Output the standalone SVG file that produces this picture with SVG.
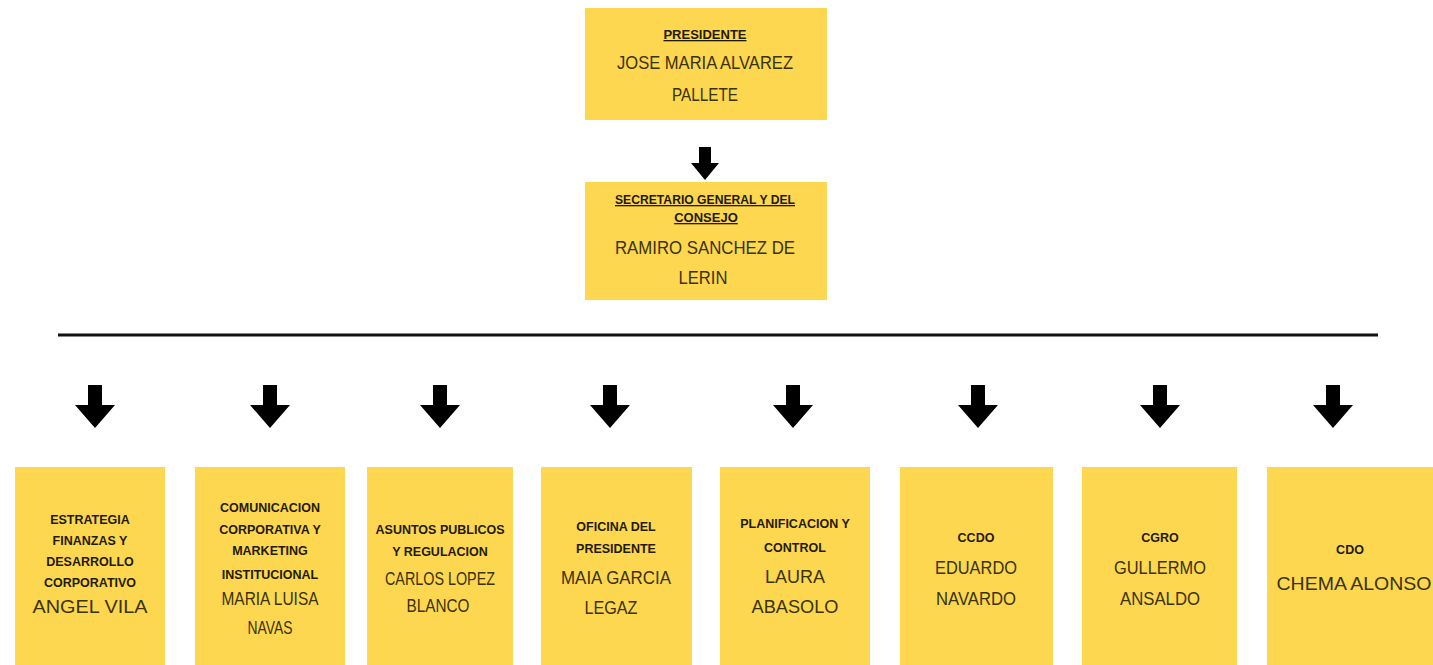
<svg xmlns="http://www.w3.org/2000/svg" width="1433" height="665" viewBox="0 0 1433 665">
<style>
.box{fill:#FDD750}
.h{font-family:"Liberation Sans",Arial,sans-serif;font-weight:bold;font-size:12.5px;fill:#1f1a02;text-anchor:middle}
.ht{font-family:"Liberation Sans",Arial,sans-serif;font-weight:bold;font-size:13px;fill:#1f1a02;text-anchor:middle;text-decoration:underline}
.n{font-family:"Liberation Sans",Arial,sans-serif;font-size:18px;fill:#3a3208;text-anchor:middle}
.arrow{fill:#000}
</style>
<defs>
<path id="arr" d="M-7,0 H7 V20 H20 L0,43 L-20,20 H-7 Z"/>
<path id="arrs" d="M-6,0 H6 V16 H14 L0,33 L-14,16 H-6 Z"/>
</defs>
<rect width="1433" height="665" fill="#ffffff"/>
<g id="connectors">
<use href="#arrs" class="arrow" x="705" y="147"/>
<line x1="58" y1="335" x2="1378" y2="335" stroke="#111" stroke-width="3"/>
<use href="#arr" class="arrow" x="95" y="385"/>
<use href="#arr" class="arrow" x="270" y="385"/>
<use href="#arr" class="arrow" x="440" y="385"/>
<use href="#arr" class="arrow" x="610" y="385"/>
<use href="#arr" class="arrow" x="793" y="385"/>
<use href="#arr" class="arrow" x="978" y="385"/>
<use href="#arr" class="arrow" x="1160" y="385"/>
<use href="#arr" class="arrow" x="1333" y="385"/>
</g>
<g id="presidente">
<rect class="box" x="585" y="8" width="242" height="112"/>
<text class="ht" x="705" y="39">PRESIDENTE</text>
<text class="n" x="705" y="69" textLength="176" lengthAdjust="spacingAndGlyphs">JOSE MARIA ALVAREZ</text>
<text class="n" x="705" y="101" textLength="66" lengthAdjust="spacingAndGlyphs">PALLETE</text>
</g>
<g id="secretario">
<rect class="box" x="585" y="182" width="242" height="118"/>
<text class="ht" x="705" y="204" textLength="180" lengthAdjust="spacingAndGlyphs">SECRETARIO GENERAL Y DEL</text>
<text class="ht" x="706" y="222">CONSEJO<tspan>  </tspan></text>
<text class="n" x="705" y="254" textLength="180" lengthAdjust="spacingAndGlyphs">RAMIRO SANCHEZ DE</text>
<text class="n" x="703" y="284" textLength="49" lengthAdjust="spacingAndGlyphs">LERIN</text>
</g>
<g id="estrategia">
<rect class="box" x="15" y="467" width="150" height="200"/>
<text class="h" x="90" y="524">ESTRATEGIA</text>
<text class="h" x="90" y="545">FINANZAS Y</text>
<text class="h" x="90" y="566">DESARROLLO</text>
<text class="h" x="90" y="587">CORPORATIVO</text>
<text class="n" x="90" y="613" textLength="115" lengthAdjust="spacingAndGlyphs">ANGEL VILA</text>
</g>
<g id="comunicacion">
<rect class="box" x="195" y="467" width="150" height="200"/>
<text class="h" x="270" y="512">COMUNICACION</text>
<text class="h" x="270" y="534">CORPORATIVA Y</text>
<text class="h" x="270" y="555">MARKETING</text>
<text class="h" x="270" y="579">INSTITUCIONAL</text>
<text class="n" x="270" y="605" textLength="97" lengthAdjust="spacingAndGlyphs">MARIA LUISA</text>
<text class="n" x="270" y="634" textLength="45" lengthAdjust="spacingAndGlyphs">NAVAS</text>
</g>
<g id="asuntos">
<rect class="box" x="367" y="467" width="146" height="200"/>
<text class="h" x="440" y="534">ASUNTOS PUBLICOS</text>
<text class="h" x="440" y="556">Y REGULACION</text>
<text class="n" x="440" y="585" textLength="110" lengthAdjust="spacingAndGlyphs">CARLOS LOPEZ</text>
<text class="n" x="438" y="612" textLength="63" lengthAdjust="spacingAndGlyphs">BLANCO</text>
</g>
<g id="oficina">
<rect class="box" x="541" y="467" width="151" height="200"/>
<text class="h" x="616" y="531">OFICINA DEL</text>
<text class="h" x="616" y="553">PRESIDENTE</text>
<text class="n" x="616" y="584" textLength="110" lengthAdjust="spacingAndGlyphs">MAIA GARCIA</text>
<text class="n" x="611" y="614" textLength="53" lengthAdjust="spacingAndGlyphs">LEGAZ</text>
</g>
<g id="planificacion">
<rect class="box" x="720" y="467" width="150" height="200"/>
<text class="h" x="795" y="528">PLANIFICACION Y</text>
<text class="h" x="795" y="552">CONTROL</text>
<text class="n" x="795" y="583" textLength="60" lengthAdjust="spacingAndGlyphs">LAURA</text>
<text class="n" x="795" y="613" textLength="87" lengthAdjust="spacingAndGlyphs">ABASOLO</text>
</g>
<g id="ccdo">
<rect class="box" x="900" y="467" width="153" height="200"/>
<text class="h" x="976" y="542">CCDO</text>
<text class="n" x="976" y="574" textLength="82" lengthAdjust="spacingAndGlyphs">EDUARDO</text>
<text class="n" x="976" y="605" textLength="80" lengthAdjust="spacingAndGlyphs">NAVARDO</text>
</g>
<g id="cgro">
<rect class="box" x="1082" y="467" width="155" height="200"/>
<text class="h" x="1160" y="542">CGRO</text>
<text class="n" x="1160" y="574" textLength="92" lengthAdjust="spacingAndGlyphs">GULLERMO</text>
<text class="n" x="1160" y="605" textLength="80" lengthAdjust="spacingAndGlyphs">ANSALDO</text>
</g>
<g id="cdo">
<rect class="box" x="1267" y="467" width="170" height="200"/>
<text class="h" x="1350" y="554">CDO</text>
<text class="n" x="1354" y="590" textLength="155" lengthAdjust="spacingAndGlyphs">CHEMA ALONSO</text>
</g>
</svg>
